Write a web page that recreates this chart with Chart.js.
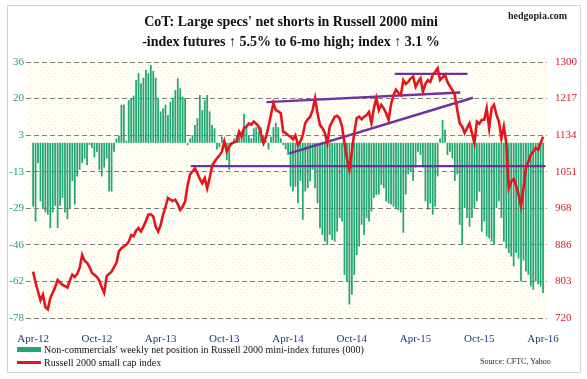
<!DOCTYPE html>
<html><head><meta charset="utf-8">
<script src="https://cdn.jsdelivr.net/npm/chart.js@4/dist/chart.umd.min.js"></script>
<style>
html,body{margin:0;padding:0;background:#fff;}
#wrap{position:relative;width:587px;height:379px;overflow:hidden;font-family:"Liberation Serif","Times New Roman",serif;}
#frame{position:absolute;left:7px;top:5px;width:574px;height:368px;border:1px solid #C9D6E4;box-sizing:border-box;}
canvas{position:absolute;left:0;top:0;}
#title{position:absolute;left:0;width:582px;top:12px;text-align:center;font-weight:bold;font-size:14px;line-height:20px;color:#111;}
#brand{position:absolute;left:508px;top:10px;font-weight:bold;font-size:10px;color:#222;}
#legend{position:absolute;left:17px;top:343px;font-size:10px;line-height:13px;color:#111;}
#legend .row{display:flex;align-items:center;white-space:nowrap;}
#legend .sw{display:inline-block;width:24px;margin-right:3px;}
#source{position:absolute;left:480px;top:357px;font-size:8px;color:#222;}
</style></head>
<body><div id="wrap">
<div id="frame"></div>
<canvas id="c" width="587" height="379"></canvas>
<div id="title">CoT: Large specs' net shorts in Russell 2000 mini<br>-index futures &#8593; 5.5% to 6-mo high; index &#8593; 3.1 %</div>
<div id="brand">hedgopia.com</div>
<div id="legend"></div>
<div id="source">Source: CFTC, Yahoo</div>
</div>
<script>
// ---- tick labels ----
const xTickLabels = ['Apr-12','Oct-12','Apr-13','Oct-13','Apr-14','Oct-14','Apr-15','Oct-15','Apr-16'];
const weeksPerLabel = 26;
const leftTickLabels = ['-78','-62','-46','-29','-13','3','20','36'];
const rightTickLabels = ['720','803','886','968','1051','1134','1217','1300'];

// ---- weekly net position, non-commercials (000 contracts) ----
const netPosition = [
-28.4,-35,-9,-26,-29,-31,-32,-38,-31,-28,
-38,-28,-24.5,-31,-34,-29,-17,-27.5,-15,-12,
-9,-7,-10,-1,-2.3,-6.5,-4,-12,-15,-11,
-7,-21.7,-21.7,-4,2,3,17,17,1,19,
20,21,28,31,26.5,29,32.5,31,34.7,32,
29,
20,14,15.4,17,12.4,18.3,20,23.5,28.7,24.3,
20.6,20,-1,2,3.5,8,11,21.3,14.6,19,
21.3,14,8,6.5,-3,-2,2.8,1,-7.6,-12,
-1,2,3,3.5,5,13,7,3.5,2,6.5,
7,5,7,3.5,1,-3,2.8,7,9,7,
2,-1,-3,
-5.4,-19.5,-21.7,-19.5,-26.9,-17,-34.3,-21.7,-20.2,-17.2,
-12,-20.2,-26.9,-38,-41,-44,-45.4,-41,-43.2,-44,
-39.5,-33.5,-35,-58.8,-61.7,-72,-67.6,-58.8,-49.9,-46.2,
-36.5,-41,-33.5,-35,-30.6,-24.6,-23.2,-23,-18.7,-20.2,
-26.1,-27,-27.5,-28.4,-29,-30,-31,-40,-23,-14,
-13,-17,
-11,-4,-5.4,-11,-26,-29.8,-27,-32,-28.4,-15,
2,10.2,5.8,-5.4,-4,-6.8,-17,-14,-36.5,-45.4,
-29,-33.5,-37.3,-33.5,-29,-26,-21.7,-39.5,-35,-41.7,
-42.5,-44,-45.4,-29,-26,-33.5,-44,-47,-49,-50.6,
-55,-49,-51.5,-61.7,-52.4,-57.3,-58.8,-64,-65.4,-61.7,
-63,-64,-66.9
];

// ---- Russell 2000 weekly close ----
const russell2000 = [
825,800,780,760,773,745,740,765,777,790,
806,800,795,792,789,805,818,813,820,834,
863,850,845,836,822,818,813,805,789,777,
815,820,825,835,845,871,878,882,886,893,
908,905,918,924,916,927,940,954,955,950,
927,
916,930,954,972,992,988,985,988,978,965,
972,984,1020,1045,1052,1059,1048,1035,1025,1037,
1014,1037,1065,1074,1082,1088,1097,1120,1097,1108,
1116,1118,1120,1142,1131,1150,1154,1161,1158,1165,
1160,1154,1135,1116,1130,1154,1180,1207,1191,1188,
1184,1142,
1139,1134,1131,1125,1134,1112,1120,1135,1161,1170,
1176,1191,1218,1184,1157,1150,1139,1116,1154,1165,
1176,1178,1172,1154,1116,1082,1056,1097,1140,1173,
1176,1170,1176,1180,1187,1161,1195,1218,1191,1203,
1195,1184,1169,1205,1225,1237,1230,1225,1259,1250,
1255,1263,
1267,1244,1255,1263,1233,1250,1259,1255,1271,1278,
1286,1259,1265,1271,1255,1245,1237,1225,1191,1161,
1154,1139,1150,1161,1139,1116,1165,1160,1169,1169,
1195,1150,1195,1203,1180,1165,1127,1154,1116,1014,
1029,1035,1020,1000,973,1014,1060,1074,1090,1097,
1105,1101,1116,1131
];

// ---- trend lines drawn on the index (week index, index level) ----
const supportLine   = [[64.3,1064],[209,1064]];
const channelTop    = [[95.2,1209],[174.2,1231]];
const risingSupport = [[104.5,1093],[179.4,1219]];
const topResistance = [[147.5,1273],[177.2,1273]];

const serif = '"Liberation Serif","Times New Roman",serif';
const leftMin = +leftTickLabels[0], leftMax = +leftTickLabels[leftTickLabels.length-1];
const rightMin = +rightTickLabels[0], rightMax = +rightTickLabels[rightTickLabels.length-1];
function evenTicks(min,max,n){return Array.from({length:n},(_,k)=>({value:min+(max-min)*k/(n-1)}));}
const toPts = arr => arr.map(p=>({x:p[0],y:p[1]}));

// dotted plot background
const pc=document.createElement('canvas');pc.width=6;pc.height=6;
const pctx=pc.getContext('2d');pctx.fillStyle='#FFFFF8';pctx.fillRect(0,0,6,6);
pctx.fillStyle='#F0EACB';pctx.fillRect(1,1,1,1);pctx.fillRect(4,4,1,1);
const ctx0=document.getElementById('c').getContext('2d');
const pattern=ctx0.createPattern(pc,'repeat');
const plotBg={id:'plotBg',beforeDraw(chart){const {ctx,chartArea:a}=chart;ctx.save();ctx.fillStyle=pattern;ctx.fillRect(a.left,a.top-6,a.right-a.left,a.bottom-a.top+10);ctx.restore();}};

const purple='#7030A0';
const trend = (d)=>({type:'line',label:'trend',data:toPts(d),yAxisID:'y1',borderColor:purple,borderWidth:2.4,pointRadius:0,order:1,tension:0});

const chart=new Chart(ctx0,{
  type:'bar',
  data:{datasets:[
    {type:'bar',label:"Non-commercials' weekly net position in Russell 2000 mini-index futures (000)",
     data:netPosition.map((v,i)=>({x:i,y:v})),yAxisID:'y',backgroundColor:'#22A673',
     barPercentage:0.72,categoryPercentage:1,order:2},
    {type:'line',label:'Russell 2000 small cap index',data:russell2000.map((v,i)=>({x:i,y:v})),
     yAxisID:'y1',borderColor:'#E3161C',borderWidth:2.6,pointRadius:0,tension:0,order:0},
    trend(supportLine),trend(channelTop),trend(risingSupport),trend(topResistance)
  ]},
  options:{
    responsive:false,animation:false,devicePixelRatio:1,
    layout:{padding:{top:62,left:0,right:0,bottom:0}},
    plugins:{legend:{display:false},tooltip:{enabled:false},title:{display:false}},
    scales:{
      x:{type:'linear',offset:false,min:-2.9,max:209.6,
         grid:{display:false,offset:false},border:{display:false},
         afterBuildTicks:s=>{s.ticks=xTickLabels.map((_,k)=>({value:k*weeksPerLabel}));},
         afterFit:s=>{s.height=61;},
         ticks:{color:'#1F3A78',font:{family:serif,size:11},padding:7,maxRotation:0,autoSkip:false,
                callback:v=>xTickLabels[Math.round(v/weeksPerLabel)]}},
      y:{position:'left',min:leftMin,max:leftMax,
         afterBuildTicks:s=>{s.ticks=evenTicks(leftMin,leftMax,leftTickLabels.length);},
         afterFit:s=>{s.width=26;},
         grid:{color:'#7F7F7F',lineWidth:1,drawTicks:false},
         border:{display:false,dash:[5,3]},
         ticks:{color:'#1F9F6F',font:{family:serif,size:11},padding:2,callback:(v,i)=>leftTickLabels[i]}},
      y1:{position:'right',min:rightMin,max:rightMax,
         afterBuildTicks:s=>{s.ticks=evenTicks(rightMin,rightMax,rightTickLabels.length);},
         afterFit:s=>{s.width=40;},
         grid:{drawOnChartArea:false,drawTicks:false},border:{display:false},
         ticks:{color:'#D0202A',font:{family:serif,size:11},padding:8,callback:(v,i)=>rightTickLabels[i]}}
    }
  },
  plugins:[plotBg]
});

// HTML legend from the chart's own datasets
const lg=document.getElementById('legend');
chart.data.datasets.slice(0,2).forEach((ds,k)=>{
  const row=document.createElement('div');row.className='row';
  const sw=document.createElement('span');sw.className='sw';
  sw.style.height=(k===0?5:3)+'px';
  sw.style.background=k===0?ds.backgroundColor:ds.borderColor;
  row.appendChild(sw);row.appendChild(document.createTextNode(ds.label));lg.appendChild(row);
});
</script>
</body></html>
